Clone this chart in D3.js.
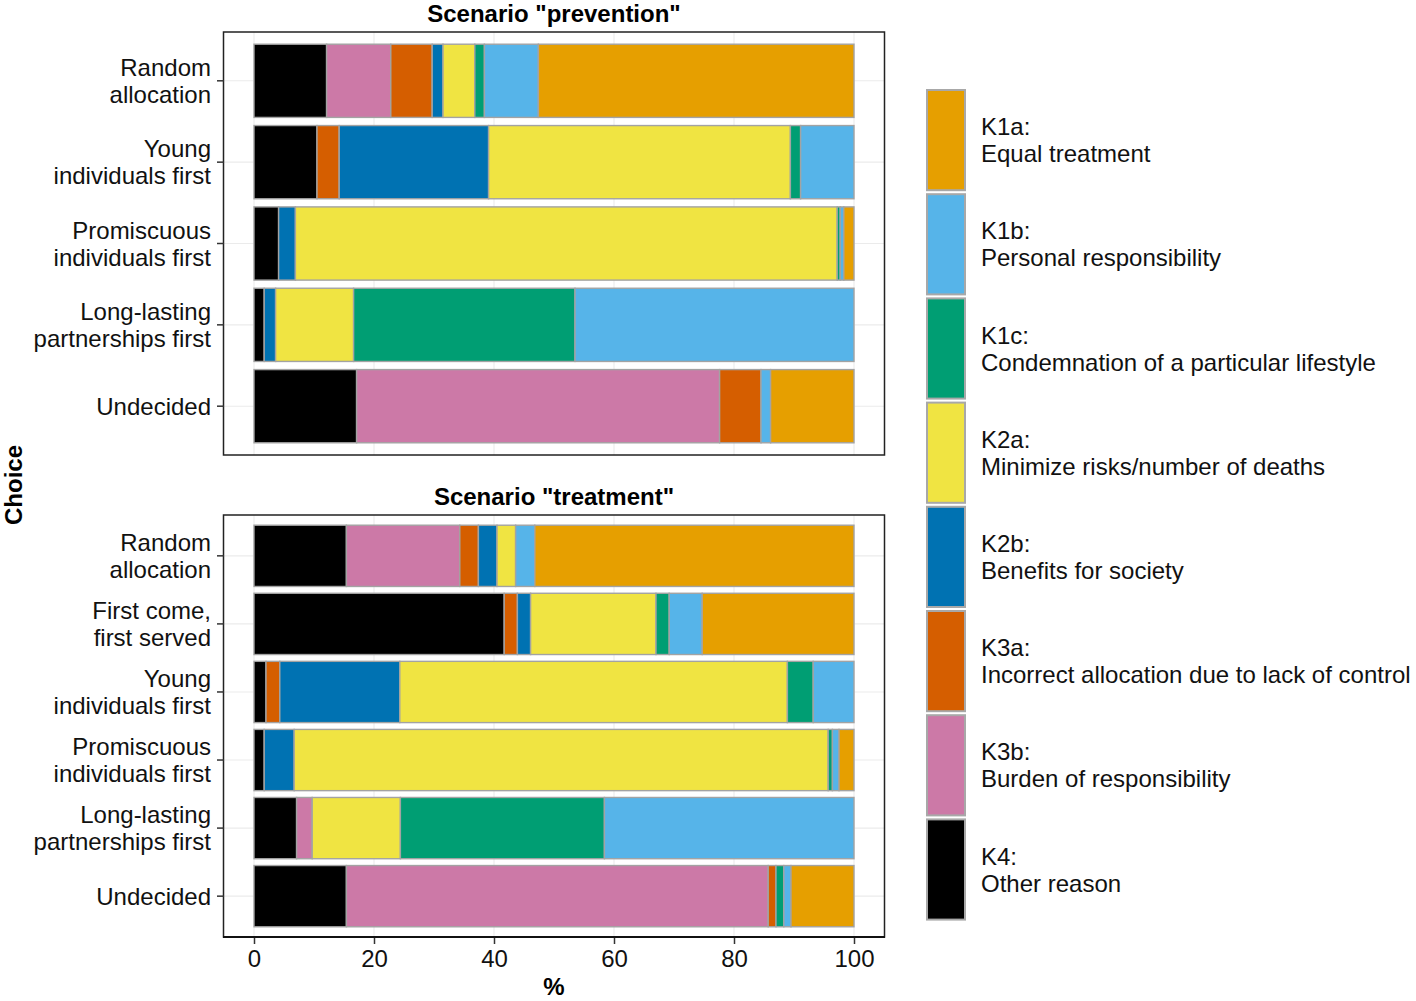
<!DOCTYPE html>
<html>
<head>
<meta charset="utf-8">
<script src="https://cdn.jsdelivr.net/npm/d3@7"></script>
<style>
  html, body { margin: 0; padding: 0; background: #fff; }
  svg { display: block; font-family: "Liberation Sans", Arial, sans-serif; }
</style>
</head>
<body>
<svg id="chart" width="1416" height="1001"></svg>
<script>
// ---------------- DATA ----------------
const reasonKeys = ["K1a", "K1b", "K1c", "K2a", "K2b", "K3a", "K3b", "K4"];
const reasonLabels = [
  "Equal treatment",
  "Personal responsibility",
  "Condemnation of a particular lifestyle",
  "Minimize risks/number of deaths",
  "Benefits for society",
  "Incorrect allocation due to lack of control",
  "Burden of responsibility",
  "Other reason"
];
const reasonColors = ["#E69F00", "#56B4E9", "#009E73", "#F0E442", "#0072B2", "#D55E00", "#CC79A7", "#000000"];
// stacking order, left to right
const stackOrder = ["K4", "K3b", "K3a", "K2b", "K2a", "K1c", "K1b", "K1a"];

const scenarioTitles = ["Scenario \"prevention\"", "Scenario \"treatment\""];

const preventionChoices = ["Random\nallocation", "Young\nindividuals first", "Promiscuous\nindividuals first", "Long-lasting\npartnerships first", "Undecided"];
const treatmentChoices = ["Random\nallocation", "First come,\nfirst served", "Young\nindividuals first", "Promiscuous\nindividuals first", "Long-lasting\npartnerships first", "Undecided"];

// prevention values (%) per reason, in preventionChoices order
const prevK1a = [52.6, 0, 1.7, 0, 13.9];
const prevK1b = [9.0, 8.9, 0.6, 46.5, 1.6];
const prevK1c = [1.6, 1.7, 0.5, 36.9, 0];
const prevK2a = [5.3, 50.3, 90.3, 13.0, 0];
const prevK2b = [1.8, 24.9, 2.8, 1.9, 0];
const prevK3a = [6.9, 3.7, 0, 0, 6.9];
const prevK3b = [10.7, 0, 0, 0, 60.5];
const prevK4  = [12.1, 10.5, 4.1, 1.7, 17.1];

// treatment values (%) per reason, in treatmentChoices order
const treatK1a = [53.2, 25.3, 0, 2.5, 0, 10.5];
const treatK1b = [3.2, 5.5, 6.8, 1.1, 41.6, 1.2];
const treatK1c = [0, 2.2, 4.3, 0.7, 34.0, 1.3];
const treatK2a = [3.1, 20.9, 64.6, 89.0, 14.7, 0];
const treatK2b = [3.1, 2.2, 20.0, 5.0, 0, 0];
const treatK3a = [3.1, 2.2, 2.3, 0, 0, 1.3];
const treatK3b = [18.9, 0, 0, 0, 2.6, 70.3];
const treatK4  = [15.4, 41.7, 2.0, 1.7, 7.1, 15.4];

const xTicks = [0, 20, 40, 60, 80, 100];

// -------------- BUILD TABLES --------------
function buildRows(choices, series) {
  return choices.map((c, i) => {
    const row = { choice: c };
    reasonKeys.forEach(k => { row[k] = series[k][i]; });
    return row;
  });
}
const prevRows = buildRows(preventionChoices, {
  K1a: prevK1a, K1b: prevK1b, K1c: prevK1c, K2a: prevK2a, K2b: prevK2b, K3a: prevK3a, K3b: prevK3b, K4: prevK4
});
const treatRows = buildRows(treatmentChoices, {
  K1a: treatK1a, K1b: treatK1b, K1c: treatK1c, K2a: treatK2a, K2b: treatK2b, K3a: treatK3a, K3b: treatK3b, K4: treatK4
});

// -------------- LAYOUT --------------
const svg = d3.select("#chart");
const FS = 24;
const panelLeft = 224, panelRight = 884;
const panels = [
  { title: scenarioTitles[0], rows: prevRows, top: 32, bottom: 455 },
  { title: scenarioTitles[1], rows: treatRows, top: 515, bottom: 937 }
];

const color = d3.scaleOrdinal().domain(reasonKeys).range(reasonColors);
const x = d3.scaleLinear().domain([0, 100]).range([254, 854]);
const stack = d3.stack().keys(stackOrder);

panels.forEach((p, pi) => {
  const y = d3.scaleBand()
    .domain(p.rows.map(r => r.choice))
    .range([p.top, p.bottom])
    .paddingInner(0.1)
    .paddingOuter(0.15);

  const g = svg.append("g");

  g.append("rect")
    .attr("x", panelLeft).attr("y", p.top)
    .attr("width", panelRight - panelLeft).attr("height", p.bottom - p.top)
    .attr("fill", "#fff");

  // grid lines
  g.selectAll(".vgrid").data(xTicks).join("line")
    .attr("x1", d => x(d)).attr("x2", d => x(d))
    .attr("y1", p.top).attr("y2", p.bottom)
    .attr("stroke", "#EBEBEB").attr("stroke-width", 1.1);
  g.selectAll(".hgrid").data(p.rows).join("line")
    .attr("x1", panelLeft).attr("x2", panelRight)
    .attr("y1", d => y(d.choice) + y.bandwidth() / 2)
    .attr("y2", d => y(d.choice) + y.bandwidth() / 2)
    .attr("stroke", "#EBEBEB").attr("stroke-width", 1.1);

  // stacked bars
  const stacked = stack(p.rows);
  g.selectAll(".layer").data(stacked).join("g")
    .attr("fill", d => color(d.key))
    .selectAll("rect")
    .data(d => d.filter(s => s[1] - s[0] > 0))
    .join("rect")
    .attr("x", s => x(s[0]))
    .attr("width", s => x(s[1]) - x(s[0]))
    .attr("y", s => y(s.data.choice))
    .attr("height", y.bandwidth())
    .attr("stroke", "#A3A3A3")
    .attr("stroke-width", 1.4);

  // panel border
  g.append("rect")
    .attr("x", panelLeft - 0.5).attr("y", p.top)
    .attr("width", panelRight - panelLeft + 1).attr("height", p.bottom - p.top)
    .attr("fill", "none").attr("stroke", "#222").attr("stroke-width", 1.5);

  // y axis ticks and labels
  const yAxis = g.append("g");
  p.rows.forEach(r => {
    const cy = y(r.choice) + y.bandwidth() / 2;
    yAxis.append("line")
      .attr("x1", panelLeft - 7).attr("x2", panelLeft)
      .attr("y1", cy).attr("y2", cy)
      .attr("stroke", "#333").attr("stroke-width", 1.5);
    const lines = r.choice.split("\n");
    const lh = 27;
    const t = yAxis.append("text")
      .attr("text-anchor", "end")
      .attr("font-size", FS)
      .attr("fill", "#111");
    lines.forEach((ln, li) => {
      t.append("tspan")
        .attr("x", 211)
        .attr("y", cy + 8.6 + (li - (lines.length - 1) / 2) * lh)
        .text(ln);
    });
  });

  // strip title
  g.append("text")
    .attr("x", (panelLeft + panelRight) / 2)
    .attr("y", p.top - 10)
    .attr("text-anchor", "middle")
    .attr("font-size", FS)
    .attr("font-weight", "bold")
    .attr("fill", "#000")
    .text(p.title);

  // x axis on bottom panel
  if (pi === panels.length - 1) {
    const xAxis = d3.axisBottom(x).tickValues(xTicks).tickSize(7).tickPadding(6).tickFormat(d3.format("d"));
    const ax = g.append("g")
      .attr("transform", `translate(0,${p.bottom})`)
      .call(xAxis);
    ax.select(".domain").remove();
    ax.selectAll(".tick line").attr("stroke", "#333").attr("stroke-width", 1.5);
    ax.selectAll(".tick text")
      .attr("font-size", FS)
      .attr("font-family", "Liberation Sans, Arial, sans-serif")
      .attr("fill", "#111");
    g.append("line")
      .attr("x1", panelLeft - 1).attr("x2", panelRight + 1)
      .attr("y1", p.bottom).attr("y2", p.bottom)
      .attr("stroke", "#111").attr("stroke-width", 2.2);
  }
});

// axis titles
svg.append("text")
  .attr("x", (panelLeft + panelRight) / 2)
  .attr("y", 995)
  .attr("text-anchor", "middle")
  .attr("font-size", FS)
  .attr("font-weight", "bold")
  .text("%");

svg.append("text")
  .attr("transform", "translate(22,485) rotate(-90)")
  .attr("text-anchor", "middle")
  .attr("font-size", FS)
  .attr("font-weight", "bold")
  .text("Choice");

// legend
const legend = svg.append("g");
const keyTop = 89, keyStep = 104.2, keyX = 926, keyW = 40;
reasonKeys.forEach((k, i) => {
  const ky = keyTop + i * keyStep;
  legend.append("rect")
    .attr("x", keyX + 1).attr("y", ky + 1)
    .attr("width", keyW - 2).attr("height", keyStep - 4)
    .attr("fill", color(k))
    .attr("stroke", "#A8A8A8")
    .attr("stroke-width", 2);
  const cy = ky + (keyStep - 2) / 2;
  const t = legend.append("text")
    .attr("font-size", FS)
    .attr("fill", "#111");
  t.append("tspan").attr("x", 981).attr("y", cy - 5).text(k + ":");
  t.append("tspan").attr("x", 981).attr("y", cy + 22).text(reasonLabels[i]);
});
</script>
</body>
</html>
